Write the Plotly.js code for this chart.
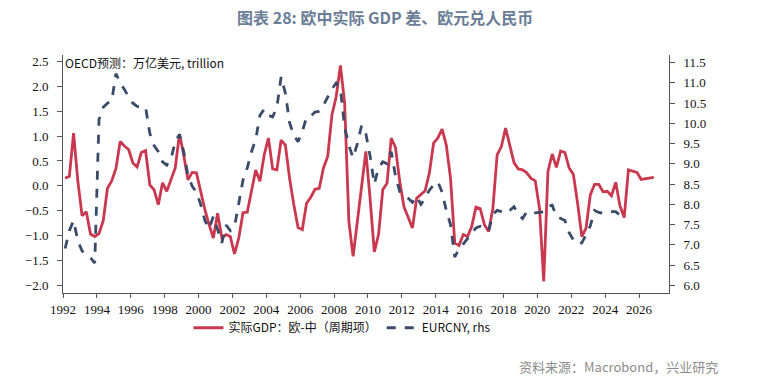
<!DOCTYPE html>
<html>
<head>
<meta charset="utf-8">
<script src="https://cdn.plot.ly/plotly-3.0.1.min.js"></script>
<style>html,body{margin:0;padding:0;background:#fff;}#chart{width:758px;height:380px;}</style>
</head>
<body>
<div id="chart"></div>
<script>
// Quarterly, starting 1992Q1 (plotted at mid-quarter)
const startYear = 1992;
const gdpGap = [
  0.15, 0.19, 1.06, 0.10, -0.60, -0.52, -0.97, -1.02, -0.96, -0.70,
  -0.05, 0.10, 0.35, 0.89, 0.80, 0.73, 0.46, 0.38, 0.67, 0.71,
  0.02, -0.08, -0.38, 0.06, -0.11, 0.12, 0.36, 1.04, 0.62, 0.12,
  0.27, 0.26, -0.11, -0.48, -0.78, -1.05, -0.55, -1.04, -0.98, -1.02,
  -1.37, -1.05, -0.54, -0.53, -0.11, 0.32, 0.09, 0.62, 0.96, 0.34,
  0.32, 0.92, 0.82, 0.15, -0.38, -0.84, -0.88, -0.35, -0.23, -0.07,
  -0.05, 0.36, 0.59, 1.43, 1.79, 2.42, 1.66, -0.72, -1.42, -0.75,
  -0.05, 0.69, -0.25, -1.33, -0.98, -0.08, 0.05, 0.96, 0.77, 0.09,
  -0.42, -0.62, -0.85, -0.25, -0.18, -0.10, 0.26, 0.86, 0.96, 1.14,
  0.82, 0.15, -1.15, -1.20, -0.98, -1.02, -0.82, -0.43, -0.46, -0.78,
  -0.92, -0.45, 0.62, 0.79, 1.16, 0.79, 0.46, 0.34, 0.32, 0.26,
  0.15, 0.10, -0.45, -1.92, 0.29, 0.64, 0.37, 0.70, 0.67, 0.36,
  0.23, -0.35, -1.02, -0.85, -0.18, 0.03, 0.03, -0.12, -0.11, -0.20,
  0.07, -0.40, -0.64, 0.32, 0.29, 0.27, 0.13, 0.14, 0.15, 0.17
];
const eurcny = [
  6.91, 7.35, 7.60, 7.10, 6.85, 6.75, 6.68, 6.55, 10.10, 10.40,
  10.50, 10.55, 11.23, 11.00, 10.84, 10.65, 10.50, 10.42, 10.41, 10.40,
  9.75, 9.45, 9.30, 9.05, 8.97, 9.13, 9.55, 9.73, 9.30, 8.72,
  8.45, 8.30, 8.00, 7.60, 7.40, 7.70, 7.38, 7.05, 7.49, 7.35,
  7.45, 8.05, 8.60, 8.90, 9.30, 9.60, 10.20, 10.35, 10.20, 10.16,
  10.40, 11.15, 10.75, 10.02, 9.70, 9.55, 9.80, 10.15, 10.18, 10.28,
  10.30, 10.45, 10.65, 10.85, 11.00, 10.85, 9.90, 9.45, 9.15, 9.50,
  9.95, 9.75, 9.20, 8.50, 8.90, 9.05, 9.00, 9.30, 8.70, 8.32,
  8.22, 8.15, 8.05, 8.20, 8.00, 8.15, 8.35, 8.48, 8.56, 8.30,
  7.85, 7.50, 6.70, 6.90, 7.02, 7.15, 7.30, 7.42, 7.46, 7.40,
  7.35, 7.75, 7.85, 7.82, 7.78, 7.85, 7.94, 7.75, 7.65, 7.82,
  7.80, 7.79, 7.80, 7.82, 7.95, 7.98, 7.70, 7.65, 7.60, 7.30,
  7.12, 7.02, 7.05, 7.25, 7.47, 7.85, 7.80, 7.78, 7.82, 7.82,
  7.82, 7.73, 7.68
];
const xTicks = [1992,1994,1996,1998,2000,2002,2004,2006,2008,2010,2012,2014,2016,2018,2020,2022,2024,2026];
const nameGdp = '实际GDP：欧-中（周期项）';
const nameFx = 'EURCNY, rhs';
const titleText = '图表 28: 欧中实际 GDP 差、欧元兑人民币';
const noteText = 'OECD预测：万亿美元, trillion';
const sourceText = '资料来源：Macrobond，兴业研究';

const qx = n => Array.from({length: n}, (_, i) => startYear + 0.125 + i * 0.25);

const cjk = 'Noto Sans CJK SC';
const serif = 'Liberation Serif';

const traces = [
  {x: qx(gdpGap.length), y: gdpGap, name: nameGdp, type: 'scatter', mode: 'lines',
   line: {color: '#c9384e', width: 2.8}, yaxis: 'y'},
  {x: qx(eurcny.length), y: eurcny, name: nameFx, type: 'scatter', mode: 'lines',
   line: {color: '#3a4b6a', width: 2.8, dash: 'dash'}, yaxis: 'y2'}
];

const layout = {
  width: 758, height: 380,
  margin: {l: 63, r: 89, t: 55, b: 87},
  paper_bgcolor: '#ffffff', plot_bgcolor: '#ffffff',
  showlegend: true,
  title: {text: '<b>' + titleText + '</b>', x: 403/758, xanchor: 'center', xref: 'paper',
          y: 1 - 18/380, yanchor: 'middle', font: {family: cjk, size: 16, color: '#6a7d96'}},
  xaxis: {range: [1992, 2027.77], tickvals: xTicks, ticktext: xTicks.map(String),
          showgrid: false, zeroline: false, showline: true, linecolor: '#555', linewidth: 1,
          ticks: 'outside', ticklen: 4, tickcolor: '#555',
          tickfont: {family: serif, size: 13, color: '#111'}},
  yaxis: {range: [-2.155, 2.63], dtick: 0.5, tick0: 0, tickformat: '.1f',
          showgrid: false, zeroline: false, showline: true, linecolor: '#555', linewidth: 1,
          ticks: 'outside', ticklen: 5, tickcolor: '#555', ticklabelstandoff: 6,
          tickfont: {family: serif, size: 13, color: '#111'}},
  yaxis2: {range: [5.81, 11.69], dtick: 0.5, tick0: 6, tickformat: '.1f', overlaying: 'y', side: 'right',
          showgrid: false, zeroline: false, showline: true, linecolor: '#555', linewidth: 1,
          ticks: 'outside', ticklen: 5, tickcolor: '#555', ticklabelstandoff: 6,
          tickfont: {family: serif, size: 13, color: '#111'}},
  legend: {orientation: 'h', x: 0.207, xanchor: 'left', y: -0.085, yanchor: 'top',
           font: {family: cjk, size: 12, color: '#111'}, bgcolor: 'rgba(0,0,0,0)', itemwidth: 30},
  annotations: [
    {text: noteText, xref: 'paper', yref: 'paper', x: 0, xanchor: 'left', y: 1 - 7/238, yanchor: 'middle',
     showarrow: false, font: {family: cjk, size: 12, color: '#111'}},
    {text: sourceText, xref: 'paper', yref: 'paper', x: (720-63)/606, xanchor: 'right',
     y: (293-366)/238, yanchor: 'middle', showarrow: false, font: {family: cjk, size: 13, color: '#8c8c8c'}}
  ]
};

Plotly.newPlot('chart', traces, layout, {displayModeBar: false, staticPlot: true});
</script>
</body>
</html>
